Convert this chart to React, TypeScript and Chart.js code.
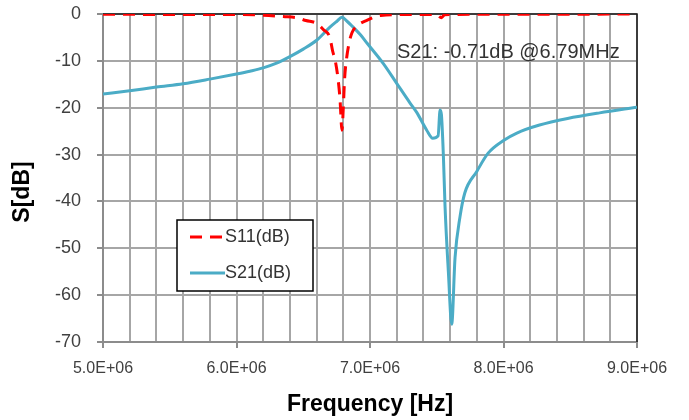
import { useEffect, useRef } from 'react';
import { Chart, registerables } from 'chart.js';

Chart.register(...registerables);

// ---- data ----
const S11_FREQ_MHZ = [5.0, 5.5, 6.0, 6.2, 6.35, 6.46, 6.52, 6.6, 6.65, 6.7, 6.72, 6.74, 6.76, 6.775, 6.79, 6.8, 6.81, 6.825, 6.845, 6.865, 6.9, 6.98, 7.08, 7.3, 7.5, 7.535, 7.56, 8.0, 8.5, 9.0];
const S11_DB = [-0.05, -0.1, -0.1, -0.25, -0.55, -0.85, -1.4, -2.0, -3.3, -5.1, -7.9, -10.0, -13.7, -18.0, -24.8, -20.0, -13.7, -9.4, -6.0, -4.0, -2.6, -1.3, -0.3, -0.1, -0.15, -0.8, -0.15, -0.05, -0.05, 0];

const S21_FREQ_MHZ = [5.0, 5.2, 5.4, 5.6, 5.8, 6.0, 6.1, 6.2, 6.3, 6.4, 6.5, 6.6, 6.7, 6.75, 6.79, 6.83, 6.87, 6.93, 6.98, 7.1, 7.2, 7.3, 7.35, 7.425, 7.47, 7.51, 7.525, 7.535, 7.55, 7.562, 7.587, 7.612, 7.637, 7.674, 7.71, 7.8, 7.885, 8.0, 8.1, 8.27, 8.48, 8.72, 9.0];
const S21_DB = [-17.1, -16.4, -15.6, -14.9, -13.9, -12.8, -12.2, -11.5, -10.5, -9.1, -7.5, -5.6, -2.8, -1.6, -0.71, -1.6, -2.7, -4.5, -6.3, -10.6, -14.8, -19.0, -21.0, -24.8, -26.5, -26.0, -20.5, -21.5, -30.5, -41.0, -55.0, -66.2, -52.0, -43.3, -38.2, -33.6, -29.7, -27.0, -25.4, -23.7, -22.3, -21.1, -19.9];

const X_MIN_HZ = 5.0e6;
const X_MAX_HZ = 9.0e6;
const X_GRID_STEP_HZ = 0.2e6;
const X_LABEL_STEP_HZ = 1.0e6;
const Y_MIN = -70;
const Y_MAX = 0;
const Y_STEP = 10;

const SERIES_LABELS = ['S11(dB)', 'S21(dB)'];
const X_TITLE = 'Frequency [Hz]';
const Y_TITLE = 'S[dB]';
const NOTE = 'S21: -0.71dB @6.79MHz';

const W = 689;
const H = 420;
const FONT = '"Liberation Sans", Arial, sans-serif';
const TEXT = '#404040';

const toPts = (f: number[], v: number[]) => f.map((m, i) => ({ x: m * 1e6, y: v[i] }));

const fmtHz = (v: number) => (v / 1e6).toFixed(1) + 'E+06';
const isMajor = (v: number) => Math.abs(((v - X_MIN_HZ) / X_LABEL_STEP_HZ) - Math.round((v - X_MIN_HZ) / X_LABEL_STEP_HZ)) < 1e-6;

const decor = {
  id: 'decor',
  beforeDatasetsDraw(chart: any) {
    const { ctx, chartArea: a } = chart;
    ctx.save();
    ctx.strokeStyle = '#1a1a1a';
    ctx.lineWidth = 1.5;
    ctx.beginPath();
    ctx.moveTo(a.left, a.top);
    ctx.lineTo(a.right, a.top);
    ctx.lineTo(a.right, a.bottom);
    ctx.stroke();
    ctx.restore();
  },
  afterDraw(chart: any) {
    const { ctx, chartArea: a } = chart;
    ctx.save();
    // axis titles
    ctx.fillStyle = '#000';
    ctx.font = `bold 23px ${FONT}`;
    ctx.textAlign = 'center';
    ctx.textBaseline = 'middle';
    ctx.fillText(X_TITLE, (a.left + a.right) / 2, 405);
    ctx.save();
    ctx.translate(23, (a.top + a.bottom) / 2 + 14);
    ctx.rotate(-Math.PI / 2);
    ctx.fillText(Y_TITLE, 0, 0);
    ctx.restore();

    // annotation
    ctx.fillStyle = '#333';
    ctx.font = `20px ${FONT}`;
    ctx.textAlign = 'left';
    ctx.fillText(NOTE, 397, 52);

    // legend
    const bx = 177, by = 220, bw = 136, bh = 71;
    ctx.fillStyle = '#fff';
    ctx.fillRect(bx, by, bw, bh);
    ctx.strokeStyle = '#000';
    ctx.lineWidth = 1.5;
    ctx.strokeRect(bx, by, bw, bh);
    const ds = chart.data.datasets;
    const rows = [237, 273];
    ds.forEach((d: any, i: number) => {
      const y = rows[i];
      ctx.save();
      ctx.strokeStyle = d.borderColor;
      ctx.lineWidth = d.borderWidth;
      ctx.setLineDash(d.borderDash || []);
      ctx.beginPath();
      ctx.moveTo(190, y);
      ctx.lineTo(225, y);
      ctx.stroke();
      ctx.restore();
      ctx.fillStyle = '#333';
      ctx.font = `18px ${FONT}`;
      ctx.textAlign = 'left';
      ctx.textBaseline = 'middle';
      ctx.fillText(d.label, 225, y);
    });
    ctx.restore();
  },
};

export default function App() {
  const ref = useRef<HTMLCanvasElement>(null);
  useEffect(() => {
    const canvas = ref.current!;
    const chart = new Chart(canvas, {
      type: 'line',
      data: {
        datasets: [
          {
            label: SERIES_LABELS[0],
            data: toPts(S11_FREQ_MHZ, S11_DB),
            borderColor: '#ff0000',
            borderWidth: 3,
            borderDash: [12, 8],
            pointRadius: 0,
            fill: false,
            cubicInterpolationMode: 'monotone',
          },
          {
            label: SERIES_LABELS[1],
            data: toPts(S21_FREQ_MHZ, S21_DB),
            borderColor: '#4bacc6',
            borderWidth: 3,
            pointRadius: 0,
            fill: false,
            cubicInterpolationMode: 'monotone',
          },
        ],
      },
      options: {
        responsive: false,
        animation: false,
        devicePixelRatio: 1,
        layout: { padding: { left: 0, top: 14, right: 52, bottom: 0 } },
        plugins: { legend: { display: false }, tooltip: { enabled: false } },
        scales: {
          x: {
            type: 'linear',
            min: X_MIN_HZ,
            max: X_MAX_HZ,
            ticks: {
              stepSize: X_GRID_STEP_HZ,
              autoSkip: false,
              maxRotation: 0,
              minRotation: 0,
              maxTicksLimit: 100,
              padding: 11,
              color: TEXT,
              font: { family: FONT, size: 16 },
              callback: (v: any) => (isMajor(Number(v)) ? fmtHz(Number(v)) : ''),
            },
            grid: {
              color: '#a6a6a6',
              lineWidth: 2,
              tickLength: 6,
              tickColor: (c: any) => (c.tick && isMajor(c.tick.value) ? '#8c8c8c' : 'rgba(0,0,0,0)'),
            },
            border: { color: '#8c8c8c', width: 2 },
            afterFit: (s: any) => {
              s.height = 78;
              s.paddingLeft = 0;
              s.paddingRight = 0;
            },
          },
          y: {
            type: 'linear',
            min: Y_MIN,
            max: Y_MAX,
            ticks: {
              stepSize: Y_STEP,
              padding: 16,
              color: TEXT,
              font: { family: FONT, size: 18 },
              callback: (v: any) => String(v),
            },
            grid: { color: '#a6a6a6', lineWidth: 2, tickLength: 6, tickColor: '#8c8c8c' },
            border: { color: '#8c8c8c', width: 2 },
            afterFit: (s: any) => {
              s.width = 103;
              s.paddingTop = 0;
              s.paddingBottom = 0;
            },
          },
        },
      },
      plugins: [decor],
    } as any);
    return () => chart.destroy();
  }, []);
  return (
    <div style={{ position: 'absolute', left: 0, top: 0, width: W, height: H, background: '#fff' }}>
      <canvas ref={ref} width={W} height={H} style={{ display: 'block', width: W, height: H }} />
    </div>
  );
}
